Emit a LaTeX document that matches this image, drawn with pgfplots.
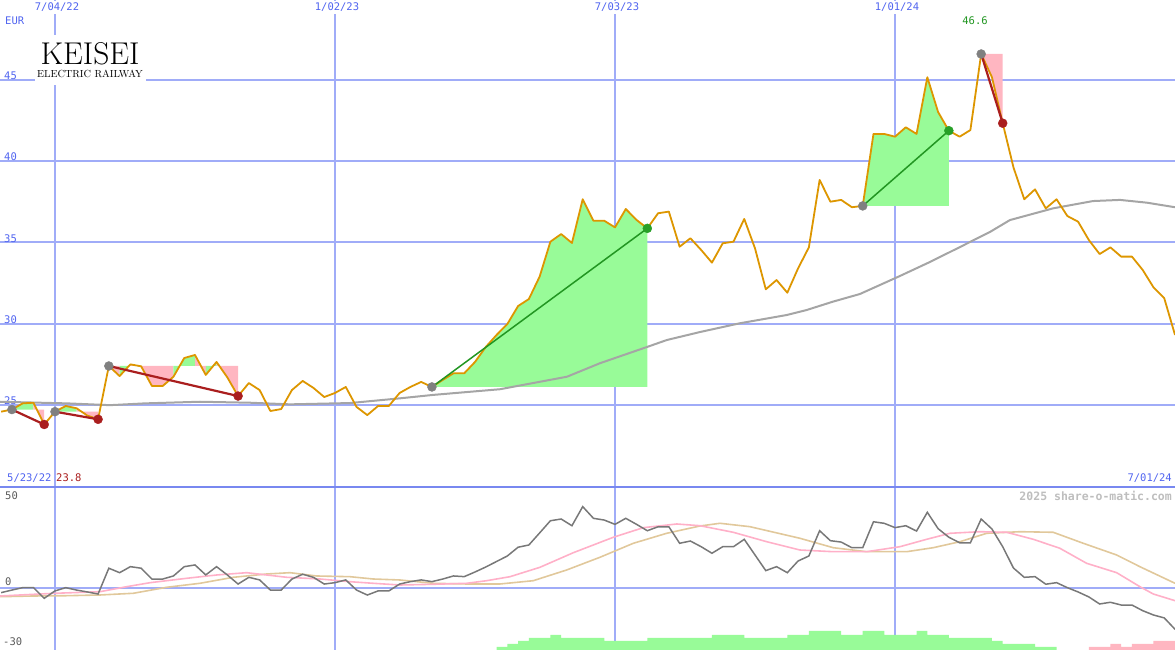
\documentclass[border=0pt]{standalone}
\usepackage{pgfplots}
\pgfplotsset{compat=1.18}
\usepackage{pgfplotstable}
\usepackage{fontspec}
\newfontfamily\mono{DejaVu Sans Mono}

\definecolor{pricec}{RGB}{221,150,0}
\definecolor{mac}{RGB}{165,165,165}
\definecolor{gfill}{RGB}{152,251,152}
\definecolor{pfill}{RGB}{255,182,193}
\definecolor{gline}{RGB}{34,150,34}
\definecolor{gdot}{RGB}{40,160,40}
\definecolor{rline}{RGB}{170,30,30}
\definecolor{dotgrey}{RGB}{128,128,128}
\definecolor{gridc}{RGB}{160,172,248}
\definecolor{sepc}{RGB}{120,136,240}
\definecolor{txtblue}{RGB}{80,100,240}
\definecolor{osc}{RGB}{120,120,120}
\definecolor{oscpink}{RGB}{255,176,200}
\definecolor{osctan}{RGB}{225,200,155}
\definecolor{wm}{RGB}{190,190,190}
\definecolor{lbl}{RGB}{90,90,90}

\pgfplotstableread{
k p
-5 24.59
-4 24.72
-3 25.10
-2 25.14
-1 23.80
0 24.59
1 24.94
2 24.80
3 24.35
4 24.12
5 27.40
6 26.78
7 27.50
8 27.38
9 26.17
10 26.17
11 26.74
12 27.89
13 28.08
14 26.85
15 27.65
16 26.70
17 25.55
18 26.35
19 25.92
20 24.63
21 24.75
22 25.92
23 26.48
24 26.05
25 25.49
26 25.74
27 26.11
28 24.88
29 24.38
30 24.94
31 24.94
32 25.74
33 26.11
34 26.42
35 26.11
36 26.54
37 26.95
38 26.95
39 27.65
40 28.57
41 29.31
42 29.98
43 31.09
44 31.52
45 32.90
46 35.05
47 35.52
48 34.97
49 37.66
50 36.34
51 36.34
52 35.93
53 37.06
54 36.39
55 35.87
56 36.80
57 36.90
58 34.74
59 35.26
60 34.54
61 33.76
62 34.95
63 35.05
64 36.45
65 34.64
66 32.12
67 32.69
68 31.91
69 33.41
70 34.70
71 38.85
72 37.51
73 37.62
74 37.17
75 37.25
76 41.68
77 41.68
78 41.51
79 42.09
80 41.68
81 45.17
82 43.03
83 41.88
84 41.51
85 41.92
86 46.60
87 45.17
88 42.34
89 39.62
90 37.66
91 38.27
92 37.10
93 37.66
94 36.63
95 36.28
96 35.15
97 34.29
98 34.70
99 34.13
100 34.13
101 33.31
102 32.24
103 31.57
104 29.31
}\price

\pgfplotstableread{
k v
-5.11 25.20
1.11 25.10
5.11 24.99
8.36 25.10
13.46 25.20
18.11 25.14
21.82 25.04
27.39 25.12
32.03 25.41
35.10 25.62
41.32 25.97
47.54 26.74
50.60 27.57
54.97 28.57
56.82 29.00
59.89 29.49
63.60 30.03
67.97 30.54
69.82 30.85
72.24 31.36
74.74 31.83
78.46 32.94
81.24 33.80
84.03 34.72
86.82 35.65
88.67 36.38
92.67 37.10
96.38 37.55
98.89 37.62
101.39 37.45
104.00 37.17
}\mavg

\pgfplotstableread{
k v
-5 -2.7
-4 -1.2
-3 0.2
-2 0.2
-1 -6.0
0 -1.7
1 0.2
2 -1.2
3 -2.3
4 -3.5
5 11.5
6 8.9
7 12.4
8 11.5
9 5.2
10 5.2
11 7.0
12 12.4
13 13.4
14 7.6
15 12.4
16 7.6
17 2.3
18 6.2
19 4.7
20 -1.2
21 -1.2
22 5.2
23 8.0
24 6.2
25 2.3
26 3.1
27 4.7
28 -1.2
29 -4.1
30 -1.7
31 -1.7
32 2.3
33 3.7
34 4.7
35 3.7
36 5.2
37 7.0
38 6.6
39 9.3
40 12.2
41 15.4
42 18.6
43 23.7
44 25.0
45 32.0
46 39.1
47 40.1
48 36.2
49 47.3
50 40.5
51 39.5
52 37.0
53 40.5
54 37.0
55 33.3
56 35.6
57 35.6
58 26.0
59 27.3
60 24.0
61 20.2
62 24.0
63 24.0
64 28.3
65 19.2
66 10.1
67 12.4
68 8.9
69 15.7
70 18.6
71 33.3
72 27.5
73 26.7
74 23.4
75 23.4
76 38.5
77 37.6
78 35.1
79 36.2
80 33.1
81 44.0
82 34.5
83 29.5
84 26.3
85 26.3
86 40.1
87 34.3
88 24.0
89 11.6
90 6.2
91 6.6
92 2.2
93 3.1
94 0.2
95 -2.3
96 -5.2
97 -9.3
98 -8.3
99 -9.9
100 -9.9
101 -13.2
102 -15.7
103 -17.4
104 -24.0
}\oscdata

\pgfplotstableread{
k v
-5.11 -4.65
-3.25 -4.07
0 -3.08
4.18 -2.15
6.66 0.76
8.82 3.08
12.23 5.64
15.01 7.56
17.80 8.90
21.51 6.22
24.61 5.23
27.39 3.66
29.55 2.73
32.03 1.74
35.10 2.15
38.23 2.73
40.08 4.24
42.25 6.57
45.03 12.03
48.13 20.52
51.84 29.48
54.62 35.06
57.73 37.21
59.89 36.22
62.98 32.38
66.08 26.92
69.17 22.09
72.26 21.10
75.37 21.10
78.46 24.01
80.94 28.31
83.10 31.80
85.89 32.73
88.37 32.38
90.84 28.31
93.31 23.08
95.79 14.36
98.58 8.90
100.74 0.76
101.98 -3.49
104.00 -7.38
}\oscpinkdata

\pgfplotstableread{
k v
-5.11 -5.06
-2.01 -4.65
1.09 -4.48
4.18 -4.07
7.27 -3.08
10.37 0.41
13.46 2.73
16.56 6.22
19.66 8.14
21.82 8.90
24.30 6.98
27.39 6.57
29.55 5.23
32.03 4.65
35.13 2.73
38.23 2.33
41.32 2.33
44.41 4.24
47.51 10.47
50.60 17.85
53.70 25.99
56.80 31.80
59.89 36.05
61.75 37.62
64.53 35.64
69.17 28.90
72.26 23.43
75.37 21.10
79.08 21.10
81.55 23.43
84.03 26.92
86.51 31.80
89.60 32.73
92.69 32.38
95.48 25.99
98.58 19.19
100.74 12.38
104.00 2.73
}\osctandata

\begin{document}
\begin{tikzpicture}
% ---------------- upper panel (price) ----------------
\begin{axis}[
  at={(0,163pt)}, anchor=south west,
  scale only axis, width=1175pt, height=487pt,
  xmin=-5.107, xmax=104.0, ymin=19.954, ymax=49.923,
  axis line style={draw=none}, major tick length=0pt,
  xtick={0,52}, xticklabels={7/04/22,7/03/23},
  extra x ticks={26,78}, extra x tick labels={1/02/23,1/01/24},
  extra x tick style={grid style={gridc, line width=1pt}},
  xticklabel pos=upper,
  xticklabel style={anchor=north, xshift=2pt, yshift=-1pt, font=\mono\fontsize{10.5}{10.5}\selectfont, text=txtblue, fill=white, inner sep=2pt},
  ytick={25,30,35,40,45}, yticklabels={25,30,35,40,45},
  yticklabel style={anchor=south west, xshift=3pt, yshift=-1pt, font=\mono\fontsize{10.5}{10.5}\selectfont, text=txtblue, inner sep=1pt},
  grid=major, major grid style={gridc, line width=2pt},
]
% trade fills
\addplot[draw=none, fill=gfill] coordinates {(-4,24.72) (-3,25.10) (-2,25.14) (-2,24.72)};
\addplot[draw=none, fill=pfill] coordinates {(-2,24.72) (-2,25.14) (-1,23.80) (-1,24.72)};
\addplot[draw=none, fill=gfill] coordinates {(0,24.59) (1,24.94) (2,24.80) (2,24.59)};
\addplot[draw=none, fill=pfill] coordinates {(2,24.59) (2,24.80) (3,24.35) (4,24.12) (4,24.59)};
\addplot[draw=none, fill=pfill] coordinates {(5,27.40) (6,26.78) (6,27.40)};
\addplot[draw=none, fill=gfill] coordinates {(6,27.40) (6,26.78) (7,27.50) (7,27.40)};
\addplot[draw=none, fill=pfill] coordinates {(7,27.40) (7,27.50) (8,27.38) (9,26.17) (10,26.17) (11,26.74) (11,27.40)};
\addplot[draw=none, fill=gfill] coordinates {(11,27.40) (11,26.74) (12,27.89) (13,28.08) (13,27.40)};
\addplot[draw=none, fill=pfill] coordinates {(13,27.40) (13,28.08) (14,26.85) (14,27.40)};
\addplot[draw=none, fill=gfill] coordinates {(14,27.40) (14,26.85) (15,27.65) (15,27.40)};
\addplot[draw=none, fill=pfill] coordinates {(15,27.40) (15,27.65) (16,26.70) (17,25.55) (17,27.40)};
\addplot[draw=none, fill=gfill] coordinates {(35,26.11) (36,26.54) (37,26.95) (38,26.95) (39,27.65) (40,28.57) (41,29.31) (42,29.98) (43,31.09) (44,31.52) (45,32.90) (46,35.05) (47,35.52) (48,34.97) (49,37.66) (50,36.34) (51,36.34) (52,35.93) (53,37.06) (54,36.39) (55,35.87) (55,26.11)};
\addplot[draw=none, fill=gfill] coordinates {(75,37.25) (76,41.68) (77,41.68) (78,41.51) (79,42.09) (80,41.68) (81,45.17) (82,43.03) (83,41.88) (83,37.25)};
\addplot[draw=none, fill=pfill] coordinates {(86,46.60) (87,45.17) (88,42.34) (88,46.60)};
% moving average
\addplot[mac, line width=2pt] table[x=k, y=v] {\mavg};
% price
\addplot[pricec, line width=1.8pt, line join=round] table[x=k, y=p] {\price};
% trade lines
\addplot[rline, line width=2.2pt] coordinates {(-4,24.72) (-1,23.80)};
\addplot[rline, line width=2.2pt] coordinates {(0,24.59) (4,24.12)};
\addplot[rline, line width=2.2pt] coordinates {(5,27.40) (17,25.55)};
\addplot[gline, line width=1.5pt] coordinates {(35,26.11) (55,35.87)};
\addplot[gline, line width=1.5pt] coordinates {(75,37.25) (83,41.88)};
\addplot[rline, line width=2.2pt] coordinates {(86,46.60) (88,42.34)};
% dots
\addplot[only marks, mark=*, mark size=4.5pt, mark options={fill=dotgrey, draw=dotgrey}] coordinates {(-4,24.72) (0,24.59) (5,27.40) (35,26.11) (75,37.25) (86,46.60)};
\addplot[only marks, mark=*, mark size=4.5pt, mark options={fill=rline, draw=rline}] coordinates {(-1,23.80) (4,24.12) (17,25.55) (88,42.34)};
\addplot[only marks, mark=*, mark size=4.5pt, mark options={fill=gdot, draw=gdot}] coordinates {(55,35.87) (83,41.88)};
\end{axis}

% ---------------- lower panel (oscillator) ----------------
\begin{axis}[
  at={(0,0)}, anchor=south west,
  scale only axis, width=1175pt, height=163pt,
  xmin=-5.107, xmax=104.0, ymin=-36.05, ymax=58.72,
  axis line style={draw=none}, major tick length=0pt,
  xtick={0,52}, xticklabels={},
  extra x ticks={26,78}, extra x tick labels={},
  extra x tick style={grid style={gridc, line width=1pt}},
  ytick={0}, yticklabels={},
  grid=major, major grid style={gridc, line width=2pt},
]
\addplot[osctan, line width=1.6pt] table[x=k, y=v] {\osctandata};
\addplot[oscpink, line width=1.6pt] table[x=k, y=v] {\oscpinkdata};
\addplot[osc, line width=1.5pt] table[x=k, y=v] {\oscdata};
\end{axis}

% histogram bars at the bottom
\begin{axis}[
  at={(0,0)}, anchor=south west,
  scale only axis, width=1175pt, height=163pt,
  xmin=-5.107, xmax=104.0, ymin=0, ymax=163,
  hide axis,
]
\addplot[const plot, fill=gfill, draw=none] coordinates {(41,3) (42,6) (43,9) (44,12) (46,15) (47,12) (51,9) (55,12) (61,15) (64,12) (68,15) (70,19) (73,15) (75,19) (77,15) (80,19) (81,15) (83,12) (87,9) (88,6) (91,3) (93,3)} \closedcycle;
\addplot[const plot, fill=pfill, draw=none] coordinates {(96,3) (98,6) (99,3) (100,6) (102,9) (104,9)} \closedcycle;
\end{axis}

% separator
\draw[sepc, line width=2.2pt] (0,163pt) -- (1175pt,163pt);

% texts
\node[anchor=west, inner sep=0, text=txtblue, font=\mono\fontsize{10.5}{10.5}\selectfont] at (5pt,629pt) {EUR};
\node[anchor=center, inner sep=0, text=gline, font=\mono\fontsize{10.5}{10.5}\selectfont] at (975pt,629pt) {46.6};
\node[anchor=west, inner sep=0, text=txtblue, font=\mono\fontsize{10.5}{10.5}\selectfont] at (7pt,172pt) {5/23/22};
\node[anchor=west, inner sep=0, text=rline, font=\mono\fontsize{10.5}{10.5}\selectfont] at (56pt,172pt) {23.8};
\node[anchor=east, inner sep=0, text=txtblue, font=\mono\fontsize{10.5}{10.5}\selectfont] at (1172pt,172pt) {7/01/24};
\node[anchor=east, inner sep=0, text=wm, font=\mono\bfseries\fontsize{11.5}{11.5}\selectfont] at (1172pt,154pt) {2025 share-o-matic.com};
\node[anchor=west, inner sep=0, text=lbl, font=\mono\fontsize{10.5}{10.5}\selectfont] at (5pt,154pt) {50};
\node[anchor=west, inner sep=0, text=lbl, font=\mono\fontsize{10.5}{10.5}\selectfont] at (5pt,68pt) {0};
\node[anchor=west, inner sep=0, text=lbl, font=\mono\fontsize{10.5}{10.5}\selectfont] at (3pt,8pt) {-30};

% logo
\fill[white] (35pt,565pt) rectangle (146pt,615pt);
\node[anchor=base, inner sep=0] at (90pt,585.5pt) {\fontsize{31.5}{31.5}\selectfont KEISEI};
\node[anchor=base, inner sep=0] at (90pt,572pt) {\fontsize{10.3}{10.3}\selectfont ELECTRIC RAILWAY};

\pgfresetboundingbox
\path[use as bounding box] (0,0) rectangle (1175pt,650pt);
\end{tikzpicture}
\end{document}
